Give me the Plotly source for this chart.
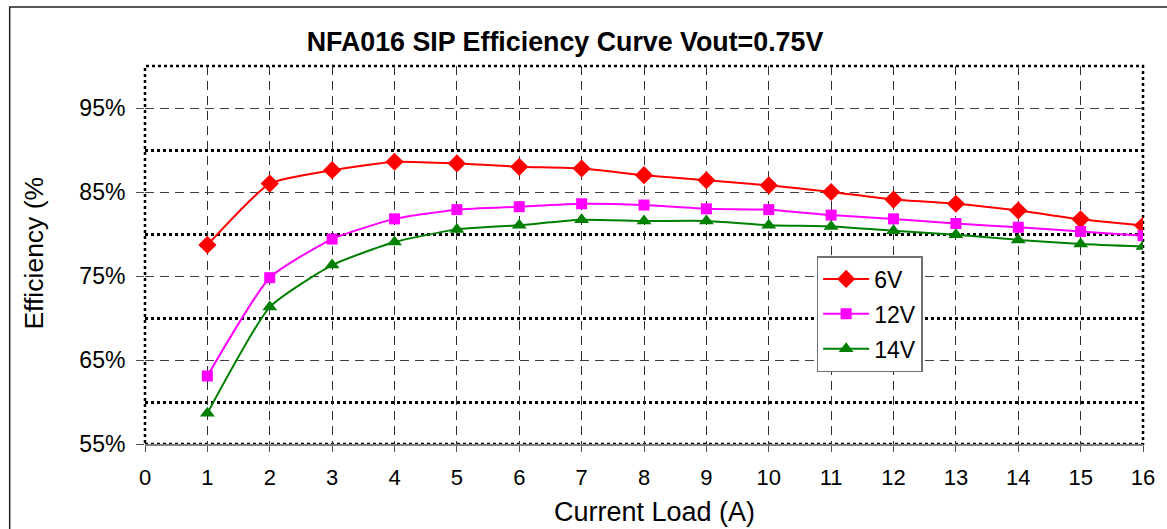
import plotly.graph_objects as go

current_load = [1, 2, 3, 4, 5, 6, 7, 8, 9, 10, 11, 12, 13, 14, 15, 16]
eff_6v = [78.7, 86.0, 87.6, 88.6, 88.4, 88.0, 87.8, 87.0, 86.4, 85.8, 85.0, 84.1, 83.6, 82.8, 81.75, 81.0]
eff_12v = [63.1, 74.8, 79.4, 81.8, 82.9, 83.25, 83.6, 83.45, 83.0, 82.9, 82.25, 81.8, 81.25, 80.8, 80.3, 79.8]
eff_14v = [58.65, 71.3, 76.3, 79.05, 80.55, 81.05, 81.7, 81.55, 81.55, 81.05, 80.9, 80.4, 79.9, 79.3, 78.8, 78.5]

x_ticks = list(range(0, 17))
y_tick_vals = [55, 65, 75, 85, 95]
y_tick_text = ["55%", "65%", "75%", "85%", "95%"]

FONT = "Liberation Sans, Arial, sans-serif"

fig = go.Figure()
series = [
    ("6V", eff_6v, "#FF0000", "diamond", 14),
    ("12V", eff_12v, "#FF00FF", "square", 11),
    ("14V", eff_14v, "#008000", "triangle-up", 13),
]
for name, ys, color, sym, size in series:
    fig.add_trace(go.Scatter(
        x=current_load, y=ys, name=name, mode="lines+markers",
        line=dict(color=color, width=2, shape="spline", smoothing=0.5),
        marker=dict(symbol=sym, size=size, color=color),
        legendgroup=name,
    ))

L, R, T, B = 145, 1148, 66, 444
W, H = 1167, 529

def px_x(p):
    return (p - L) / (R - L)

def px_y(p):
    return (B - p) / (B - T)

fig.update_layout(
    width=W, height=H,
    margin=dict(l=L, r=W - R, t=T, b=H - B),
    paper_bgcolor="white", plot_bgcolor="white",
    font=dict(family=FONT, color="black"),
    title=dict(text="<b>NFA016 SIP Efficiency Curve Vout=0.75V</b>",
               x=565 / W, xanchor="center", y=1 - 42 / H, yanchor="middle",
               font=dict(size=26.8, family=FONT, color="black")),
    showlegend=True,
    legend=dict(x=px_x(820), y=px_y(256), xanchor="left", yanchor="top",
                bgcolor="white", bordercolor="#707070", borderwidth=1.5,
                font=dict(size=23, family=FONT, color="black"),
                traceorder="grouped", tracegroupgap=2,
                itemwidth=46),
    xaxis=dict(range=[0, 16], tickvals=x_ticks, ticktext=[str(v) for v in x_ticks],
               showgrid=True, gridcolor="#303030", gridwidth=1, griddash="9px,6px",
               showline=True, linecolor="#808080", linewidth=1.5,
               ticks="outside", ticklen=6, tickcolor="#505050",
               ticklabelstandoff=7,
               tickfont=dict(size=22, family=FONT, color="black"),
               zeroline=False),
    yaxis=dict(range=[55, 100], tickvals=y_tick_vals, ticktext=y_tick_text,
               showgrid=True, gridcolor="#404040", gridwidth=1, griddash="9px,6px",
               showline=False,
               ticks="outside", ticklen=8, tickcolor="#505050",
               ticklabelstandoff=6,
               tickfont=dict(size=23, family=FONT, color="black"),
               zeroline=False,
               minor=dict(tick0=60, dtick=10, showgrid=True, gridcolor="black",
                          gridwidth=2.5, griddash="3px,3px", ticks="")),
)

fig.add_annotation(text="Current Load (A)", xref="paper", yref="paper",
                   x=px_x(657), y=px_y(512), xanchor="center", yanchor="middle",
                   showarrow=False, font=dict(size=27, family=FONT, color="black"))
fig.add_annotation(text="Efficiency (%", xref="paper", yref="paper",
                   x=px_x(33), y=px_y(253), xanchor="center", yanchor="middle",
                   textangle=-90, showarrow=False,
                   font=dict(size=26.5, family=FONT, color="black"))

# plot-area dotted border
fig.add_shape(type="rect", xref="paper", yref="paper", x0=0, x1=1, y0=0, y1=1,
              line=dict(color="black", width=2.5, dash="3px,3px"), layer="below")
# outer chart border
fig.add_shape(type="rect", xref="paper", yref="paper",
              x0=px_x(9), x1=px_x(1180), y0=px_y(540), y1=px_y(7),
              line=dict(color="#202020", width=1.5), layer="below")

fig.write_html("out.html", config={"displayModeBar": False},
               post_script="document.body.style.margin='0px';document.body.style.overflow='hidden';")
